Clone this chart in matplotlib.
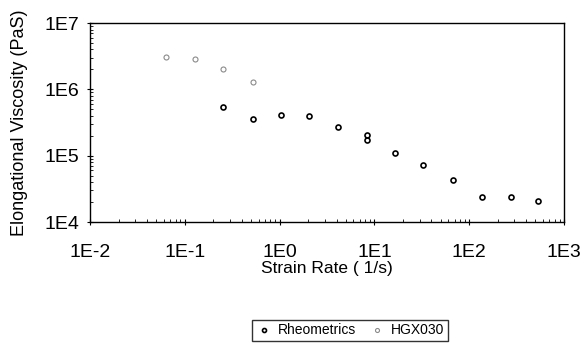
import numpy as np
import matplotlib.pyplot as plt
from matplotlib.ticker import LogLocator, FuncFormatter, NullFormatter

plt.rcParams['font.family'] = ['Liberation Sans', 'DejaVu Sans']

# Rheometrics data (strain rate 1/s, viscosity PaS)
rheo_rate = [0.253, 0.524, 1.03, 2.04, 4.13, 8.36, 8.36, 16.5, 32.6, 67.5, 136, 276, 532]
rheo_visc = [5.4e5, 3.56e5, 4.1e5, 3.96e5, 2.7e5, 2.05e5, 1.72e5, 1.09e5, 7.2e4, 4.3e4, 2.38e4, 2.38e4, 2.07e4]

# HGX030 data
hgx_rate = [0.063, 0.128, 0.253, 0.524]
hgx_visc = [3.07e6, 2.86e6, 2.02e6, 1.29e6]

fig = plt.figure(figsize=(5.87, 3.5), dpi=100)
ax = fig.add_axes([0.1533, 0.3657, 0.8075, 0.5683])

ax.plot(rheo_rate, rheo_visc, 'o', ms=3.6, mfc='none', mec='black', mew=1.2, label='Rheometrics')
ax.plot(hgx_rate, hgx_visc, 'o', ms=3.6, mfc='none', mec='#8a8a8a', mew=0.8, label='HGX030')

ax.set_xscale('log')
ax.set_yscale('log')
ax.set_xlim(1e-2, 1e3)
ax.set_ylim(1e4, 1e7)

fmt = FuncFormatter(lambda v, p: '1E%d' % round(np.log10(v)))
ax.xaxis.set_major_locator(LogLocator(base=10))
ax.yaxis.set_major_locator(LogLocator(base=10))
ax.xaxis.set_major_formatter(fmt)
ax.yaxis.set_major_formatter(fmt)
ax.xaxis.set_minor_formatter(NullFormatter())
ax.yaxis.set_minor_formatter(NullFormatter())
ax.tick_params(which='major', direction='inout', length=5, width=0.8, labelsize=14)
ax.tick_params(axis='x', which='major', pad=13)
ax.tick_params(axis='y', which='major', pad=5)
ax.tick_params(which='minor', direction='in', length=2.5, width=0.6)

for s in ax.spines.values():
    s.set_linewidth(1.0)

ax.set_xlabel('Strain Rate ( 1/s)', fontsize=12.5, labelpad=0)
ax.set_ylabel('Elongational Viscosity (PaS)', fontsize=13, labelpad=12)

fig.legend(loc='upper center', bbox_to_anchor=(0.596, 0.086), ncol=2, fontsize=10,
           frameon=True, fancybox=False, edgecolor='black', handletextpad=0.4,
           handlelength=1.2, columnspacing=0.9, borderpad=0.25, borderaxespad=0,
           markerscale=0.8)

fig.savefig('out.png', dpi=100)
